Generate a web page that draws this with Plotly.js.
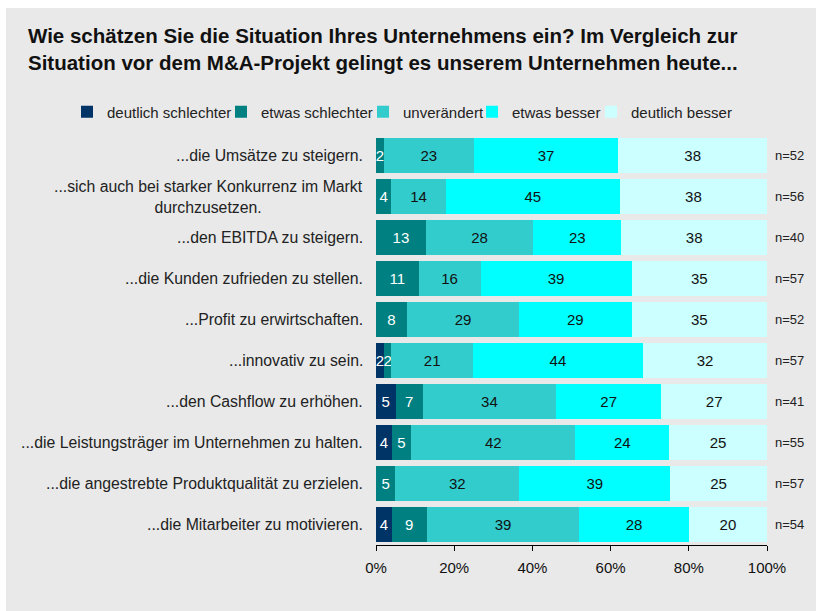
<!DOCTYPE html>
<html>
<head>
<meta charset="utf-8">
<script src="https://cdn.plot.ly/plotly-3.0.1.min.js"></script>
<style>
html,body{margin:0;padding:0;background:#ffffff;width:816px;height:611px;overflow:hidden;}
#chart{position:absolute;left:6px;top:8px;width:810px;height:603px;}
</style>
</head>
<body>
<div id="chart"></div>
<script>
// ---- data ----
const categories = [
  "...die Umsätze zu steigern.",
  "...sich auch bei starker Konkurrenz im Markt<br>durchzusetzen.",
  "...den EBITDA zu steigern.",
  "...die Kunden zufrieden zu stellen.",
  "...Profit zu erwirtschaften.",
  "...innovativ zu sein.",
  "...den Cashflow zu erhöhen.",
  "...die Leistungsträger im Unternehmen zu halten.",
  "...die angestrebte Produktqualität zu erzielen.",
  "...die Mitarbeiter zu motivieren."
];
const deutlichSchlechter = [0, 0, 0, 0, 0, 2, 5, 4, 0, 4];
const etwasSchlechter    = [2, 4, 13, 11, 8, 2, 7, 5, 5, 9];
const unveraendert       = [23, 14, 28, 16, 29, 21, 34, 42, 32, 39];
const etwasBesser        = [37, 45, 23, 39, 29, 44, 27, 24, 39, 28];
const deutlichBesser     = [38, 38, 38, 35, 35, 32, 27, 25, 25, 20];
const nValues            = [52, 56, 40, 57, 52, 57, 41, 55, 57, 54];
const seriesNames = ["deutlich schlechter", "etwas schlechter", "unverändert", "etwas besser", "deutlich besser"];
const tickValues = [0, 20, 40, 60, 80, 100];
const tickLabels = ["0%", "20%", "40%", "60%", "80%", "100%"];

// ---- styles ----
const colors = ["#003366", "#008080", "#33CCCC", "#00FFFF", "#CCFFFF"];
const textColors = ["#ffffff", "#ffffff", "#111111", "#111111", "#111111"];
const FONT = "Liberation Sans, Arial, sans-serif";
const W = 810, H = 603;
// left edge (px, in the chart div) of each one-item legend
const legendLeft = [61, 215, 357, 466, 585];
const legendIds = ["legend", "legend2", "legend3", "legend4", "legend5"];

const allSeries = [deutlichSchlechter, etwasSchlechter, unveraendert, etwasBesser, deutlichBesser];

const traces = allSeries.map((vals, i) => ({
  type: "bar",
  orientation: "h",
  name: seriesNames[i],
  legend: legendIds[i],
  x: vals,
  y: categories,
  text: vals.map(v => v === 0 ? "" : String(v)),
  textposition: "inside",
  insidetextanchor: "middle",
  textangle: 0,
  constraintext: "none",
  insidetextfont: {family: FONT, size: 15, color: textColors[i]},
  marker: {color: colors[i], line: {width: 0}},
  hoverinfo: "name+x"
}));

const annotations = [];
categories.forEach((c, i) => {
  annotations.push({
    xref: "paper", yref: "y", x: 0, y: c,
    xanchor: "right", yanchor: "middle", xshift: -11,
    text: c, showarrow: false, align: "center",
    font: {family: FONT, size: 15.8, color: "#222222"}
  });
  annotations.push({
    xref: "paper", yref: "y", x: 1, y: c,
    xanchor: "left", yanchor: "middle", xshift: 6,
    text: "n=" + nValues[i], showarrow: false,
    font: {family: FONT, size: 13, color: "#222222"}
  });
});

const layout = {
  width: W, height: H,
  paper_bgcolor: "#e9e9e9",
  plot_bgcolor: "#e9e9e9",
  margin: {l: 370, r: 49, t: 127, b: 66},
  barmode: "stack",
  barnorm: "percent",
  bargap: 0.17,
  title: {
    text: "<b>Wie schätzen Sie die Situation Ihres Unternehmens ein? Im Vergleich zur<br>Situation vor dem M&A-Projekt gelingt es unserem Unternehmen heute...</b>",
    font: {family: FONT, size: 20.5, color: "#111111"},
    xref: "container", yref: "container",
    x: 22 / W, xanchor: "left",
    y: 1 - 35 / H, yanchor: "top"
  },
  showlegend: true,
  xaxis: {
    range: [0, 100],
    tickvals: tickValues,
    ticktext: tickLabels,
    ticks: "outside", ticklen: 5, tickcolor: "#000000", tickwidth: 1,
    showline: true, linecolor: "#000000", linewidth: 1,
    showgrid: false, zeroline: false,
    tickfont: {family: FONT, size: 15, color: "#111111"},
    ticklabelstandoff: 4,
    fixedrange: true
  },
  yaxis: {
    autorange: "reversed",
    showticklabels: false,
    showline: false, showgrid: false, zeroline: false, ticks: "",
    fixedrange: true
  },
  annotations: annotations
};

legendIds.forEach((id, i) => {
  layout[id] = {
    orientation: "h",
    xref: "container", yref: "container",
    x: legendLeft[i] / W, xanchor: "left",
    y: 1 - 104 / H, yanchor: "middle",
    font: {family: FONT, size: 15, color: "#222222"},
    bgcolor: "rgba(0,0,0,0)",
    itemwidth: 30
  };
});

Plotly.newPlot("chart", traces, layout, {displayModeBar: false, responsive: false});
</script>
</body>
</html>
